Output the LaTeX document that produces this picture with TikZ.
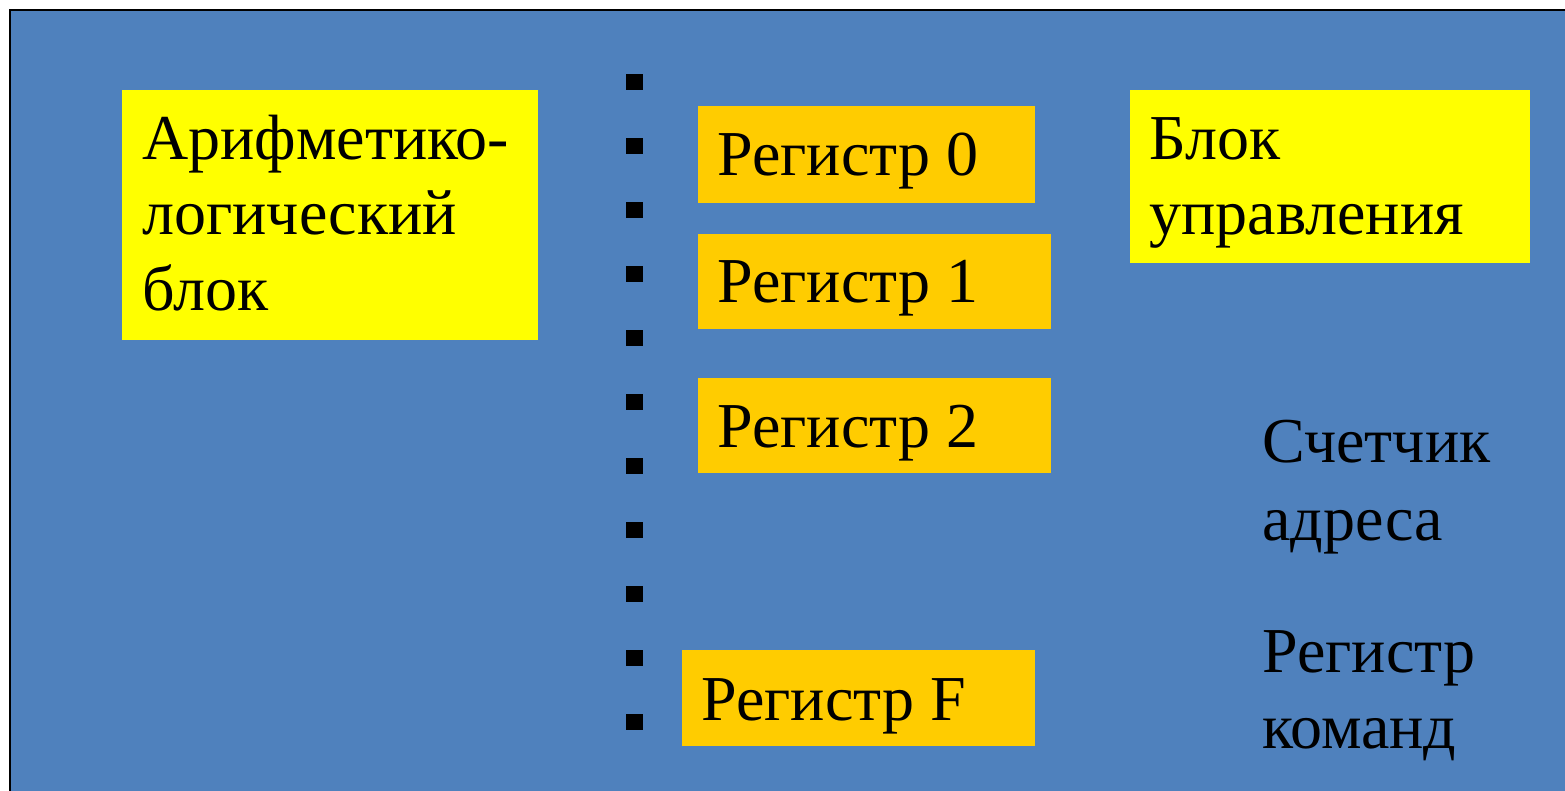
\documentclass[tikz,border=0pt]{standalone}
\usepackage{fontspec}
\setmainfont{Liberation Serif}
\usetikzlibrary{fit}
\definecolor{bgblue}{HTML}{4F81BD}
\definecolor{boxyellow}{HTML}{FFFF00}
\definecolor{boxorange}{HTML}{FFCC00}
\tikzset{
  ybox/.style={fill=boxyellow, draw=none, inner sep=0pt},
  obox/.style={fill=boxorange, draw=none, inner sep=0pt},
  txt/.style={anchor=base west, inner sep=0pt, font=\fontsize{32}{38}\selectfont, text=black},
  bullet/.style={fill=black, draw=none, inner sep=0pt, minimum width=8.5pt, minimum height=8pt}
}
\begin{document}
\begin{tikzpicture}[x=0.5pt, y=-0.5pt]
\useasboundingbox (0,0) rectangle (1565,791);
\clip (0,0) rectangle (1565,791);
\fill[white] (0,0) rectangle (1565,791);
\filldraw[fill=bgblue, draw=black, line width=1pt] (10,10) rectangle (1590,820);

% boxes
\node[ybox, fit={(122,90) (538,340)}] (alu) {};
\node[ybox, fit={(1130,90) (1530,263)}] (cu) {};
\node[obox, fit={(698,106) (1035,203)}] (r0) {};
\node[obox, fit={(698,234) (1051,329)}] (r1) {};
\node[obox, fit={(698,378) (1051,473)}] (r2) {};
\node[obox, fit={(682,650) (1035,746)}] (rf) {};

% bullets
\foreach \i in {0,...,10}{
  \node[bullet] (b\i) at (634.5, 82+64*\i) {};
}

% texts
\node[txt] (alu1) at (142,160) {Арифметико-};
\node[txt] (alu2) at (142,235) {логический};
\node[txt] (alu3) at (142,311) {блок};
\node[txt] (cu1) at (1149,160) {Блок};
\node[txt] (cu2) at (1149,235) {управления};
\node[txt] (r0t) at (717,176) {Регистр 0};
\node[txt] (r1t) at (717,303) {Регистр 1};
\node[txt] (r2t) at (717,447) {Регистр 2};
\node[txt] (rft) at (701,720) {Регистр F};
\node[txt] (pc1) at (1262,463) {Счетчик};
\node[txt] (pc2) at (1262,540) {адреса};
\node[txt] (ir1) at (1262,672) {Регистр};
\node[txt] (ir2) at (1262,748) {команд};
\end{tikzpicture}
\end{document}
